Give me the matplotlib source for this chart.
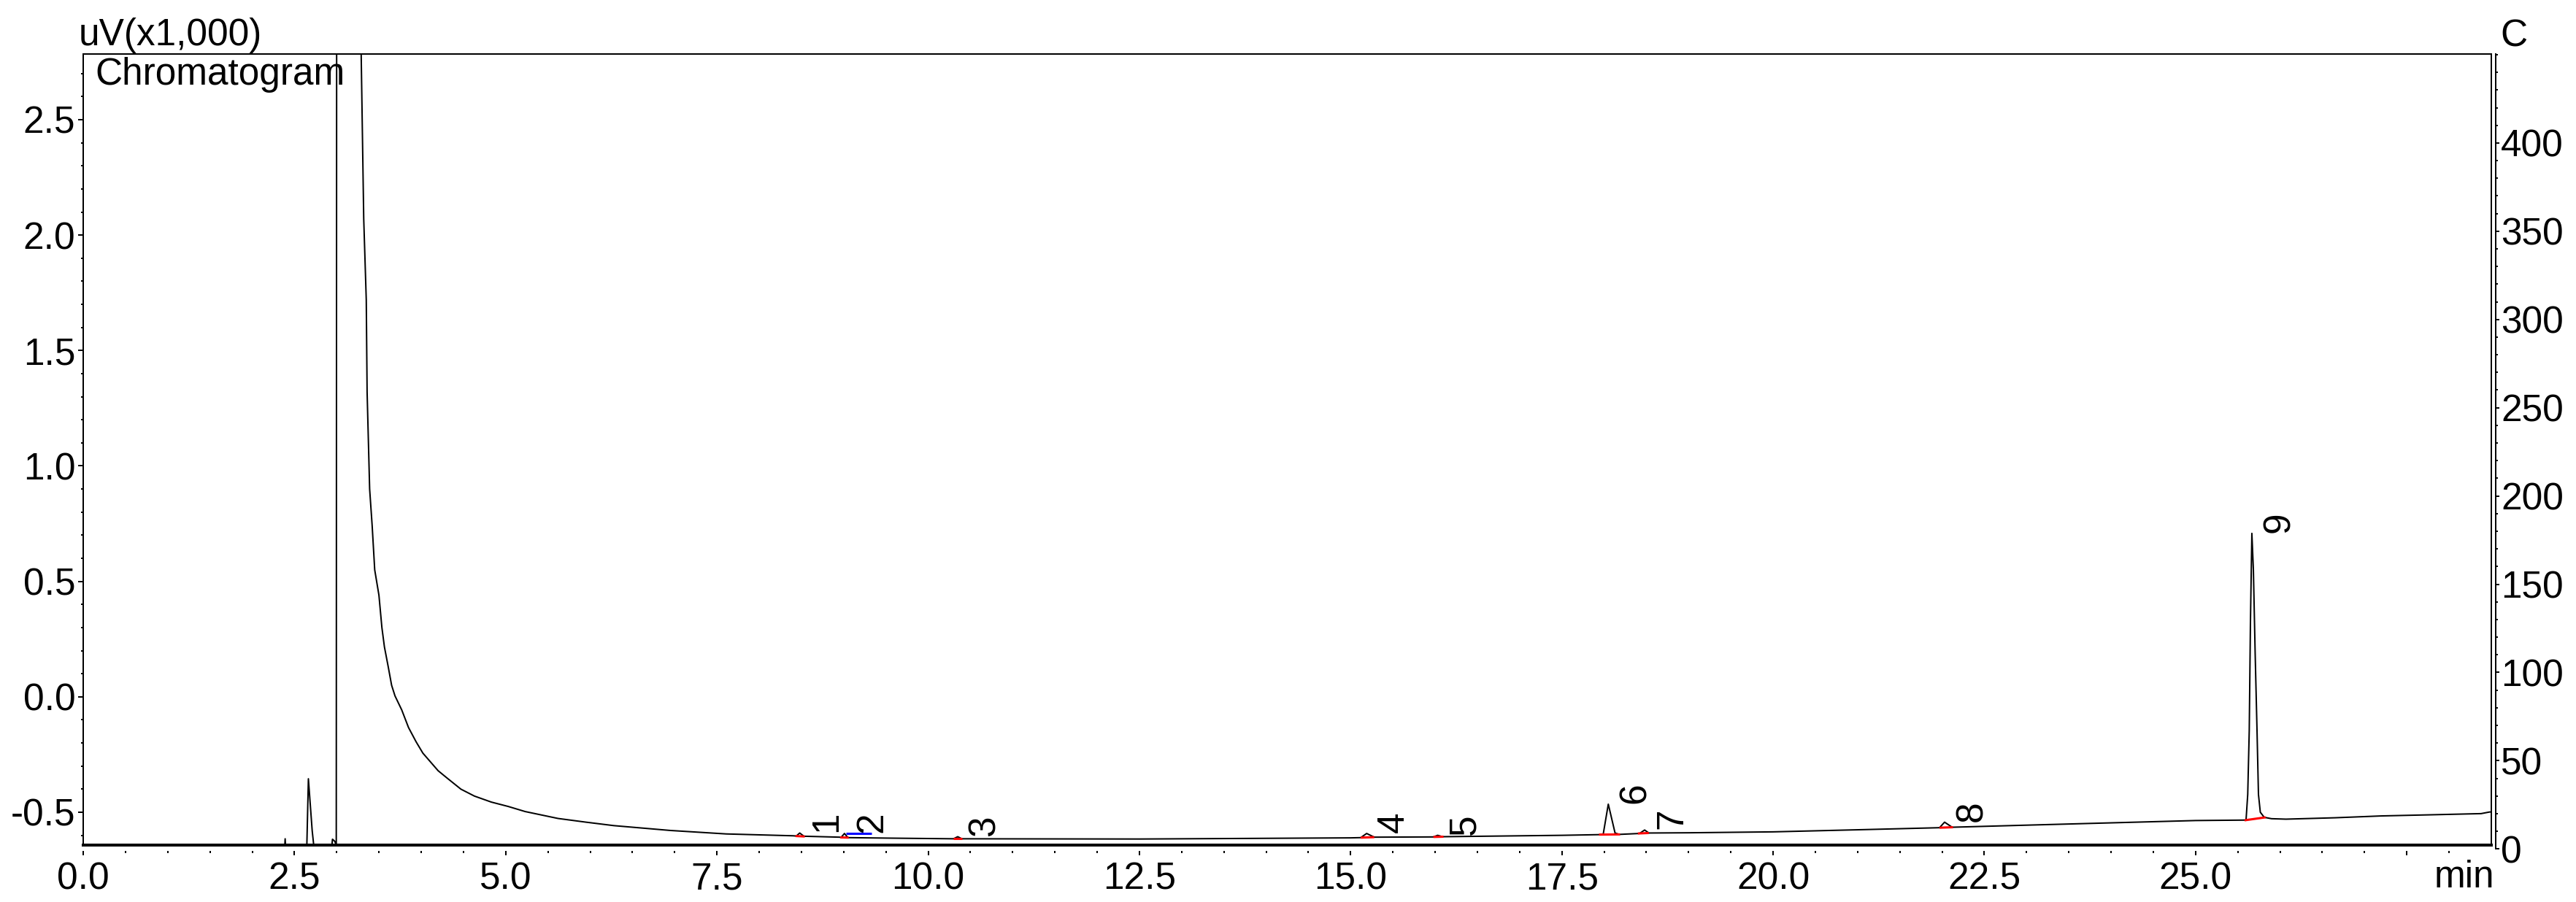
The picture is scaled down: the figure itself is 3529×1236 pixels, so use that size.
import matplotlib
matplotlib.use("Agg")
import matplotlib.pyplot as plt
from matplotlib.ticker import MultipleLocator, FixedLocator, FuncFormatter
from matplotlib.lines import Line2D

# ---------------- data ----------------
time_min = [0.00, 2.37, 2.39, 2.41, 2.64, 2.665, 2.71, 2.745, 2.93, 2.95, 2.975, 2.995,
            3.00, 3.285, 3.29, 3.32, 3.35, 3.36, 3.39, 3.42, 3.45, 3.50, 3.535, 3.565,
            3.61, 3.65, 3.69, 3.77, 3.85, 3.94, 4.02, 4.11, 4.20, 4.30, 4.47, 4.63,
            4.83, 5.03, 5.23, 5.62, 5.95, 6.28, 6.95, 7.61, 8.40,
            8.44, 8.48, 8.53, 8.95, 8.97, 9.01, 9.05, 9.50, 10.30, 10.35, 10.40,
            12.50, 15.00, 15.12, 15.19, 15.28, 15.98, 16.03, 16.09, 17.50, 17.95,
            17.99, 18.05, 18.13, 18.18, 18.42, 18.48, 18.53, 19.00, 20.00, 21.00,
            21.97, 22.03, 22.12, 23.00, 24.00, 25.00, 25.598, 25.618, 25.636, 25.65,
            25.667, 25.685, 25.706, 25.728, 25.745, 25.767, 25.813, 25.90, 26.07,
            26.65, 27.20, 27.80, 28.38, 28.48, 28.60]
signal_uv = [-0.75, -0.75, -0.615, -0.75, -0.75, -0.355, -0.58, -0.70, -0.70, -0.617, -0.625, -0.64,
             3.20, 3.20, 2.78, 2.07, 1.72, 1.32, 0.90, 0.74, 0.55, 0.44, 0.30, 0.216,
             0.13, 0.05, 0.004, -0.057, -0.133, -0.195, -0.244, -0.282, -0.32, -0.35, -0.40, -0.43,
             -0.456, -0.475, -0.497, -0.527, -0.543, -0.558, -0.579, -0.594, -0.602,
             -0.603, -0.590, -0.604, -0.608, -0.609, -0.592, -0.610, -0.612, -0.615, -0.606, -0.615,
             -0.616, -0.611, -0.610, -0.592, -0.608, -0.607, -0.600, -0.606, -0.600, -0.597,
             -0.595, -0.465, -0.590, -0.596, -0.592, -0.577, -0.590, -0.589, -0.585, -0.576,
             -0.567, -0.543, -0.565, -0.556, -0.546, -0.536, -0.534, -0.423, -0.146, 0.320,
             0.708, 0.55, 0.187, -0.146, -0.423, -0.500, -0.522, -0.528, -0.530,
             -0.524, -0.516, -0.511, -0.506, -0.499, -0.497]

peak_ids = ["1", "2", "3", "4", "5", "6", "7", "8", "9"]
peak_rt = [8.48, 9.01, 10.35, 15.19, 16.03, 18.05, 18.48, 22.03, 25.667]
peak_top = [-0.590, -0.592, -0.606, -0.592, -0.600, -0.465, -0.577, -0.543, 0.708]

# integration baselines (start time, end time, start value, end value)
base_t0 = [8.43, 8.96, 10.30, 15.12, 15.98, 17.94, 18.40, 21.97, 25.58]
base_t1 = [8.54, 9.06, 10.40, 15.28, 16.10, 18.19, 18.53, 22.13, 25.83]
base_v0 = [-0.603, -0.609, -0.615, -0.610, -0.607, -0.597, -0.592, -0.567, -0.535]
base_v1 = [-0.605, -0.610, -0.615, -0.608, -0.606, -0.596, -0.590, -0.565, -0.522]
skim_t = [9.03, 9.33]
skim_v = [-0.593, -0.593]

x_major = 2.5
x_minor = 0.5
y_major = 0.5
y_minor = 0.1
temp_ticks = [0, 50, 100, 150, 200, 250, 300, 350, 400]

# ---------------- layout ----------------
W, H, DPI = 3529, 1236, 100
plt.rcParams["font.family"] = ["Liberation Sans", "DejaVu Sans"]
plt.rcParams["axes.unicode_minus"] = False
FS = 37
LW = 1.44

fig = plt.figure(figsize=(W / DPI, H / DPI), dpi=DPI)
L, R, T, B = 114, 3412.5, 74, 1157.5
ax = fig.add_axes([L / W, 1 - B / H, (R - L) / W, (B - T) / H])
ax.set_xlim(0, (R - L) / 115.75)
ax.set_ylim(-0.6407, 2.7845)

ax.plot(time_min, signal_uv, color="black", lw=LW, zorder=3)
for t0, t1, v0, v1 in zip(base_t0, base_t1, base_v0, base_v1):
    ax.plot([t0, t1], [v0, v1], color="red", lw=2.2, zorder=4, solid_capstyle="butt")
ax.plot(skim_t, skim_v, color="blue", lw=2.2, zorder=4, solid_capstyle="butt")

for pid, rt, top in zip(peak_ids, peak_rt, peak_top):
    ax.annotate(pid, xy=(rt, top), xytext=(13, 1), textcoords="offset pixels",
                rotation=90, ha="left", va="bottom", fontsize=FS, zorder=5)

for s in ["left", "top", "right"]:
    ax.spines[s].set_linewidth(LW)
ax.spines["bottom"].set_position(("outward", 6))
ax.spines["bottom"].set_visible(False)
ax.add_line(Line2D([0, 1], [0, 0], transform=ax.transAxes, color="black",
                   lw=2.9, clip_on=False, zorder=6))

ax.xaxis.set_major_locator(MultipleLocator(x_major))
ax.xaxis.set_minor_locator(MultipleLocator(x_minor))
ax.xaxis.set_major_formatter(FuncFormatter(lambda v, p: "" if v > 26 else f"{v:.1f}"))
ax.yaxis.set_major_locator(MultipleLocator(y_major))
ax.yaxis.set_minor_locator(MultipleLocator(y_minor))
ax.yaxis.set_major_formatter(FuncFormatter(lambda v, p: f"{v:.1f}"))
ax.tick_params(axis="x", which="major", direction="out", length=4.3, width=LW, pad=6, labelsize=FS)
ax.tick_params(axis="x", which="minor", direction="out", length=1.8, width=LW)
ax.tick_params(axis="y", which="major", direction="out", length=5.3, width=LW, pad=2.5, labelsize=FS)
ax.tick_params(axis="y", which="minor", direction="out", length=2.2, width=LW)
ax.tick_params(top=False, right=False)

# right temperature axis
R2, B2 = 3419, 1163.3
ax2 = fig.add_axes([L / W, 1 - B2 / H, (R2 - L) / W, (B2 - T) / H])
ax2.patch.set_visible(False)
for s in ["left", "top", "bottom"]:
    ax2.spines[s].set_visible(False)
ax2.spines["right"].set_linewidth(LW)
ax2.set_xticks([])
ax2.set_ylim(0, 450.4)
ax2.yaxis.tick_right()
ax2.yaxis.set_major_locator(FixedLocator(temp_ticks))
ax2.yaxis.set_minor_locator(MultipleLocator(10))
ax2.tick_params(axis="y", which="major", direction="out", length=3.6, width=LW, pad=1.5, labelsize=FS)
ax2.tick_params(axis="y", which="minor", direction="out", length=2.4, width=LW)

# texts
fig.text(108 / W, 1 - 62 / H, "uV(x1,000)", ha="left", va="baseline", fontsize=FS)
fig.text(130 / W, 1 - 116 / H, "Chromatogram", ha="left", va="baseline", fontsize=FS)
fig.text(3425 / W, 1 - 63 / H, "C", ha="left", va="baseline", fontsize=FS)
fig.text(3417 / W, 1 - 1216 / H, "min", ha="right", va="baseline", fontsize=FS)

fig.savefig("out.png", dpi=DPI)
